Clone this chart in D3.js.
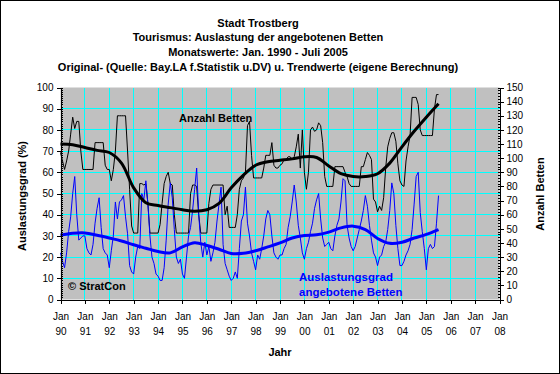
<!DOCTYPE html>
<html>
<head>
<meta charset="utf-8">
<script src="https://cdn.jsdelivr.net/npm/d3@7"></script>
<style>
body { margin: 0; background: #fff; }
svg { display: block; font-family: "Liberation Sans", Arial, sans-serif; color: #000; }
</style>
</head>
<body>
<div id="chart"></div>
<script>
var titleLines = [
    "Stadt Trostberg",
    "Tourismus: Auslastung der angebotenen Betten",
    "Monatswerte: Jan. 1990 - Juli 2005",
    "Original- (Quelle: Bay.LA f.Statistik u.DV) u. Trendwerte (eigene Berechnung)"
];
var yearLabels = ["90","91","92","93","94","95","96","97","98","99","00","01","02","03","04","05","06","07","08"];
var monthLabel = "Jan";

// Anzahl Betten (right axis), one row per year, Jan 1990 - Jul 2005
var bettenJahr = [
    [104, 98, 92, 98, 105, 117, 129, 121, 126, 126, 105, 92],   // 1990
    [92, 92, 92, 92, 92, 111, 111, 111, 111, 111, 95, 92],
    [92, 84, 92, 105, 130, 130, 130, 130, 130, 105, 78, 52],
    [47, 47, 47, 82, 82, 81, 82, 68, 47, 47, 47, 47],
    [47, 53, 68, 82, 87, 90, 82, 81, 60, 47, 47, 47],
    [47, 47, 47, 47, 75, 81, 81, 80, 60, 47, 47, 47],           // 1995
    [47, 68, 78, 81, 81, 81, 81, 81, 81, 60, 66, 51],
    [51, 51, 51, 60, 78, 84, 86, 90, 123, 126, 102, 86],
    [86, 86, 86, 86, 93, 102, 102, 102, 111, 95, 93, 93],
    [95, 96, 99, 99, 101, 101, 99, 101, 108, 117, 93, 120],
    [90, 78, 90, 120, 122, 119, 120, 125, 123, 111, 87, 80],    // 2000
    [80, 80, 80, 94, 94, 94, 94, 94, 90, 87, 82, 80],
    [80, 80, 80, 80, 94, 94, 99, 104, 102, 99, 71, 69],
    [62, 66, 63, 72, 93, 108, 114, 118, 118, 112, 96, 84],
    [81, 80, 98, 108, 116, 143, 143, 143, 138, 120, 116, 116],
    [116, 116, 116, 116, 135, 145, 145]                          // 2005
];

// Auslastungsgrad in % (left axis)
var auslastungJahr = [
    [22, 18, 15, 22, 32, 39, 50, 58, 40, 28, 29, 30],   // 1990
    [30, 24, 22, 21, 26, 36, 43, 48, 34, 24, 22, 21],
    [15, 23, 30, 46, 38, 46, 47, 49, 39, 31, 16, 13],
    [12, 20, 25, 24, 50, 47, 56, 45, 30, 20, 17, 12],
    [11, 9, 9, 15, 28, 45, 55, 48, 33, 20, 17, 19],
    [12, 10, 20, 30, 34, 42, 52, 62, 40, 27, 20, 27],   // 1995
    [21, 25, 18, 22, 27, 37, 45, 53, 26, 17, 14, 11],
    [9, 10, 13, 10, 24, 37, 40, 53, 36, 30, 22, 18],
    [14, 21, 19, 24, 30, 38, 42, 40, 30, 22, 20, 19],
    [21, 21, 24, 26, 34, 39, 46, 54, 46, 35, 29, 22],
    [19, 24, 27, 32, 36, 43, 47, 50, 38, 29, 25, 26],   // 2000
    [27, 24, 23, 30, 35, 38, 46, 57, 56, 35, 29, 25],
    [23, 25, 29, 33, 37, 42, 49, 44, 35, 28, 22, 20],
    [16, 20, 21, 25, 27, 33, 42, 55, 50, 35, 24, 16],
    [16, 18, 21, 23, 26, 33, 45, 58, 60, 41, 32, 24],
    [14, 24, 26, 24, 25, 36, 49]                         // 2005
];

// trend values, read every half year (Jan / Jul) from Jan 1990 to Jul 2005
var trendMonate = d3.range(0, 187, 6);
var bettenTrend = [110, 109.5, 107.5, 105.5, 104, 96.5, 79, 68.5, 66.5, 65, 63.5, 62.5, 63.5, 68, 79, 88,
                   95, 97.5, 98.5, 99.5, 101, 100.5, 94.5, 89, 87, 87, 89, 96.5, 108, 119, 129, 138.5];
var auslastungTrend = [30.3, 31.2, 31.4, 30.3, 29, 27.6, 25.8, 24.2, 22.6, 22, 24.8, 26.8, 25.5, 23.7, 21.7, 21.8,
                       23, 24.8, 26.7, 29, 30.2, 30.5, 31.8, 33.8, 34.6, 33, 28.8, 26.5, 27, 29, 30.7, 33];

var betten = d3.merge(bettenJahr);
var auslastung = d3.merge(auslastungJahr);

var width = 560, height = 374;
var plotLeft = 60.5, plotRight = 499.5, plotTop = 87.5, plotBottom = 299.5;

var svg = d3.select("#chart").append("svg")
    .attr("width", width)
    .attr("height", height);

svg.append("rect")
    .attr("x", 0.5).attr("y", 0.5)
    .attr("width", width - 1).attr("height", height - 1)
    .attr("fill", "#fff").attr("stroke", "#000");

var x = d3.scaleLinear().domain([0, 216]).range([plotLeft, plotRight]);
var yL = d3.scaleLinear().domain([0, 100]).range([plotBottom, plotTop]);
var yR = d3.scaleLinear().domain([0, 150]).range([plotBottom, plotTop]);

// plot area
svg.append("rect")
    .attr("x", plotLeft).attr("y", plotTop)
    .attr("width", plotRight - plotLeft).attr("height", plotBottom - plotTop)
    .attr("fill", "#c0c0c0");

var grid = svg.append("g").attr("stroke", "#00ffff").attr("shape-rendering", "crispEdges");
grid.selectAll("line.h").data(d3.range(10, 100, 10))
    .enter().append("line")
    .attr("x1", plotLeft).attr("x2", plotRight)
    .attr("y1", function(d) { return Math.round(yL(d) - 0.5) + 0.5; })
    .attr("y2", function(d) { return Math.round(yL(d) - 0.5) + 0.5; });
grid.selectAll("line.v").data(d3.range(12, 216, 12))
    .enter().append("line")
    .attr("y1", plotTop).attr("y2", plotBottom)
    .attr("x1", function(d) { return Math.round(x(d) - 0.5) + 0.5; })
    .attr("x2", function(d) { return Math.round(x(d) - 0.5) + 0.5; });

// series
var lineBetten = d3.line()
    .x(function(d, i) { return x(i); })
    .y(function(d) { return yR(d); });
var lineAusl = d3.line()
    .x(function(d, i) { return x(i); })
    .y(function(d) { return yL(d); });

svg.append("path").datum(betten)
    .attr("d", lineBetten)
    .attr("fill", "none").attr("stroke", "#000").attr("stroke-width", 1);

svg.append("path").datum(auslastung)
    .attr("d", lineAusl)
    .attr("fill", "none").attr("stroke", "#0000ff").attr("stroke-width", 1);

var trendB = d3.line()
    .curve(d3.curveCatmullRom.alpha(0.5))
    .x(function(d, i) { return x(trendMonate[i]); })
    .y(function(d) { return yR(d); });
var trendA = d3.line()
    .curve(d3.curveCatmullRom.alpha(0.5))
    .x(function(d, i) { return x(trendMonate[i]); })
    .y(function(d) { return yL(d); });

svg.append("path").datum(bettenTrend)
    .attr("d", trendB)
    .attr("fill", "none").attr("stroke", "#000").attr("stroke-width", 3);

svg.append("path").datum(auslastungTrend)
    .attr("d", trendA)
    .attr("fill", "none").attr("stroke", "#0000ff").attr("stroke-width", 3);

// axes
function styleAxis(g) {
    g.attr("font-family", "Liberation Sans, Arial, sans-serif")
     .attr("font-size", 10)
     .attr("shape-rendering", "crispEdges");
}

var gL = svg.append("g").attr("transform", "translate(" + plotLeft + ",0)");
gL.call(d3.axisLeft(yL).tickValues(d3.range(0, 101, 10)).tickSize(4).tickSizeOuter(0).tickPadding(3));
gL.append("g").call(d3.axisRight(yL).tickValues(d3.range(0, 101, 1)).tickSize(2).tickSizeOuter(0).tickFormat(""));
styleAxis(gL);

var gR = svg.append("g").attr("transform", "translate(" + plotRight + ",0)");
gR.call(d3.axisRight(yR).tickValues(d3.range(0, 151, 10)).tickSize(4).tickSizeOuter(0).tickPadding(3));
gR.append("g").call(d3.axisLeft(yR).tickValues(d3.range(0, 151, 2)).tickSize(2).tickSizeOuter(0).tickFormat(""));
styleAxis(gR);

var gB = svg.append("g").attr("transform", "translate(0," + plotBottom + ")");
gB.append("g").call(d3.axisBottom(x).tickValues(d3.range(0, 217, 1)).tickSize(2).tickSizeOuter(0).tickFormat(""));
gB.call(d3.axisBottom(x).tickValues(d3.range(0, 217, 12)).tickSize(4).tickSizeOuter(0).tickPadding(9)
    .tickFormat(function() { return monthLabel; }));
gB.selectAll(".tick").filter(function(d) { return d % 12 === 0; }).each(function(d) {
    d3.select(this).append("text")
        .attr("fill", "currentColor")
        .attr("y", 28).attr("dy", "0.71em")
        .text(yearLabels[d / 12]);
});
styleAxis(gB);

// titles
svg.append("g").selectAll("text").data(titleLines)
    .enter().append("text")
    .attr("x", 258)
    .attr("y", function(d, i) { return 26.5 + i * 14.9; })
    .attr("text-anchor", "middle")
    .attr("font-size", 11).attr("font-weight", "bold")
    .text(function(d) { return d; });

svg.append("text")
    .attr("transform", "translate(26,196) rotate(-90)")
    .attr("text-anchor", "middle")
    .attr("font-size", 11).attr("font-weight", "bold")
    .text("Auslastungsgrad (%)");

svg.append("text")
    .attr("transform", "translate(544,194) rotate(-90)")
    .attr("text-anchor", "middle")
    .attr("font-size", 11).attr("font-weight", "bold")
    .text("Anzahl Betten");

svg.append("text")
    .attr("x", 280).attr("y", 356)
    .attr("text-anchor", "middle")
    .attr("font-size", 11).attr("font-weight", "bold")
    .text("Jahr");

// labels inside the plot
svg.append("text")
    .attr("x", 179).attr("y", 122)
    .attr("font-size", 11).attr("font-weight", "bold")
    .text("Anzahl Betten");

svg.append("text")
    .attr("x", 299).attr("y", 281)
    .attr("font-size", 11.5).attr("font-weight", "bold").attr("fill", "#0000ff")
    .text("Auslastungsgrad");
svg.append("text")
    .attr("x", 299).attr("y", 296)
    .attr("font-size", 11.5).attr("font-weight", "bold").attr("fill", "#0000ff")
    .text("angebotene Betten");

svg.append("text")
    .attr("x", 68).attr("y", 289.5)
    .attr("font-size", 11).attr("font-weight", "bold")
    .text("\u00a9 StratCon");
</script>
</body>
</html>
